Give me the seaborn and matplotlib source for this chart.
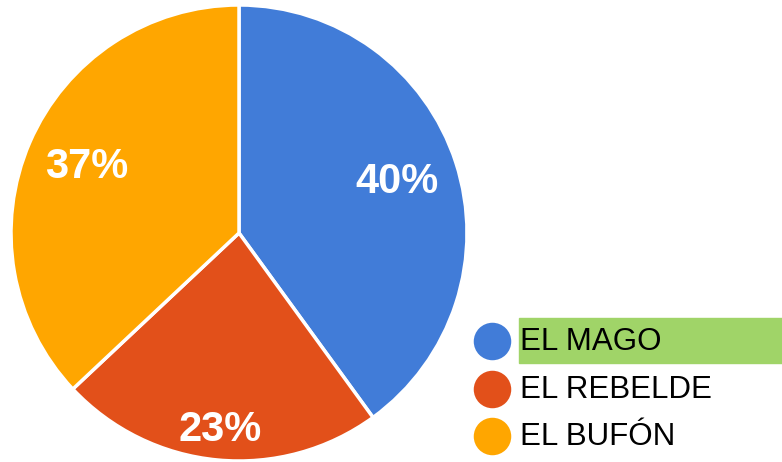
import numpy as np
import matplotlib
matplotlib.use("Agg")
import matplotlib.pyplot as plt
import seaborn as sns
from matplotlib.patches import Rectangle

sns.set_theme(style="white")
plt.rcParams["font.family"] = ["Liberation Sans", "DejaVu Sans"]

# Data
categories = ["EL MAGO", "EL REBELDE", "EL BUFÓN"]
shares = [40, 23, 37]
colors = ["#417CD8", "#E2501A", "#FFA600"]
label_dist = [0.73, 0.87, 0.73]

W, H = 782, 462
fig = plt.figure(figsize=(W / 100, H / 100), dpi=100)

# Pie axes (center ~ (239, 233) px, radius ~228 px)
ax = fig.add_axes([11 / W, 1 / H, 456 / W, 456 / H])
wedges, _ = ax.pie(
    shares,
    colors=colors,
    startangle=90,
    counterclock=False,
    radius=1,
    wedgeprops=dict(edgecolor="white", linewidth=2.5),
)
ax.set_xlim(-1.0, 1.0)
ax.set_ylim(-1.0, 1.0)
ax.set_aspect("equal")
ax.axis("off")

for w, val, d in zip(wedges, shares, label_dist):
    mid = np.deg2rad((w.theta1 + w.theta2) / 2)
    ax.text(d * np.cos(mid), d * np.sin(mid), f"{val}%",
            ha="center", va="center", color="white",
            fontsize=30, fontweight="bold")

# Legend drawn in pixel coordinates
lax = fig.add_axes([0, 0, 1, 1])
lax.set_xlim(0, W)
lax.set_ylim(H, 0)
lax.axis("off")
lax.add_patch(Rectangle((519, 318), 263, 45, color="#A0D468", zorder=1))
ys = [341, 389, 436]
for y, name, c in zip(ys, categories, colors):
    lax.scatter([492], [y], s=(27) ** 2, color=c, zorder=3, linewidths=0)
    lax.text(520, y + 1, name, ha="left", va="center",
             fontsize=22.5, color="black", zorder=4)

fig.savefig("out.png", dpi=100)
